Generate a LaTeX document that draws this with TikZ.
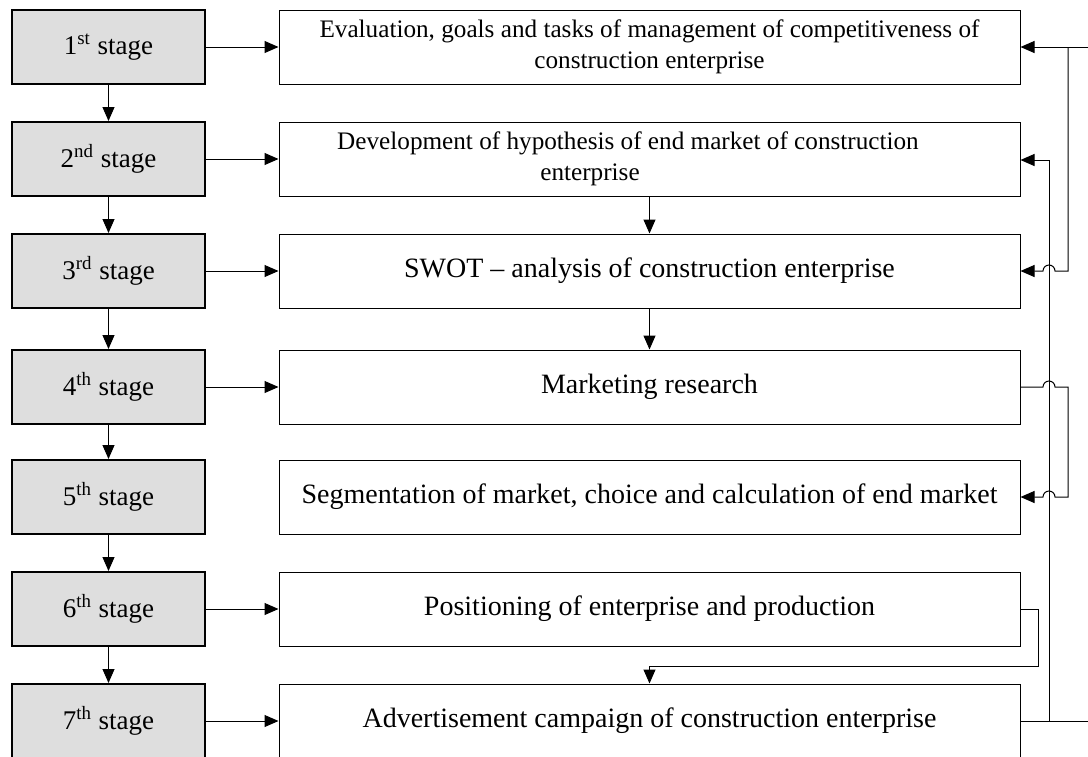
\documentclass[tikz,border=0pt]{standalone}
\usepackage{fontspec}
\setmainfont{Liberation Serif}
\usepackage{tikz}
\usetikzlibrary{arrows.meta,positioning}

\definecolor{stagegrey}{gray}{0.87}

\tikzset{
  stagebox/.style={draw, line width=1pt, fill=stagegrey, minimum width=96.5pt, minimum height=37pt, inner sep=0pt, font=\fontsize{13.5}{16}\selectfont},
  taskbox/.style={draw, line width=0.5pt, minimum width=370.5pt, minimum height=37pt, inner sep=0pt, align=center, font=\fontsize{14}{16}\selectfont},
  smalltext/.style={font=\fontsize{12.6}{15.5}\selectfont},
  link/.style={line width=0.5pt, -{Triangle[length=7pt,width=6pt]}},
  plainlink/.style={line width=0.5pt},
}

\begin{document}
\begin{tikzpicture}[x=0.5pt,y=-0.5pt]
\useasboundingbox (0,0) rectangle (1088,756);

% stages
\node[stagebox] (s1) at (108.5,47) {1\textsuperscript{st} stage};
\node[stagebox] (s2) at (108.5,159) {2\textsuperscript{nd} stage};
\node[stagebox] (s3) at (108.5,271) {3\textsuperscript{rd} stage};
\node[stagebox] (s4) at (108.5,387) {4\textsuperscript{th} stage};
\node[stagebox] (s5) at (108.5,497) {5\textsuperscript{th} stage};
\node[stagebox] (s6) at (108.5,609) {6\textsuperscript{th} stage};
\node[stagebox] (s7) at (108.5,721) {7\textsuperscript{th} stage};

% tasks
\node[taskbox,smalltext] (t1) at (649.5,47) {Evaluation, goals and tasks of management of competitiveness of\\construction enterprise};
\node[taskbox,smalltext] (t2) at (649.5,159) {Development of hypothesis of end market of construction\hspace{21.5pt}\mbox{}\\enterprise\hspace{59.5pt}\mbox{}};
\node[taskbox] (t3) at (649.5,271) {SWOT -- analysis of construction enterprise};
\node[taskbox] (t4) at (649.5,387) {Marketing research};
\node[taskbox] (t5) at (649.5,497) {Segmentation of market, choice and calculation of end market};
\node[taskbox] (t6) at (649.5,609) {Positioning of enterprise and production};
\node[taskbox] (t7) at (649.5,721) {Advertisement campaign of construction enterprise};

\coordinate (out7) at (1088,721);
\coordinate (in1) at (1088,47);

% stage sequence
\foreach \a/\b in {s1/s2,s2/s3,s3/s4,s4/s5,s5/s6,s6/s7}
  \draw[link] (\a.south) -- (\b.north);
\foreach \a/\b in {s1/t1,s2/t2,s3/t3,s4/t4,s6/t6,s7/t7}
  \draw[link] (\a.east) -- (\b.west);

\draw[link] (t2.south) -- (t3.north);
\draw[link] (t3.south) -- (t4.north);
\draw[link] (t6.east) -| (1038,666) -| (t7.north);

% feedback lines on the right
\draw[plainlink] (t7.east) -- (out7);
\draw[link] (in1) -- (t1.east);
\draw[link] (1049,721) -- (1049,160) -- (t2.east |- 0,160);
\draw[link] (1068,47) -- (1068,271) -- (1055,271) arc[start angle=0,end angle=180,radius=3pt] -- (t3.east);
\draw[link] (t4.east) -- (1043,387) arc[start angle=180,end angle=0,radius=3pt] -- (1068,387) -- (1068,497) -- (1055,497) arc[start angle=0,end angle=180,radius=3pt] -- (t5.east);
\end{tikzpicture}
\end{document}
